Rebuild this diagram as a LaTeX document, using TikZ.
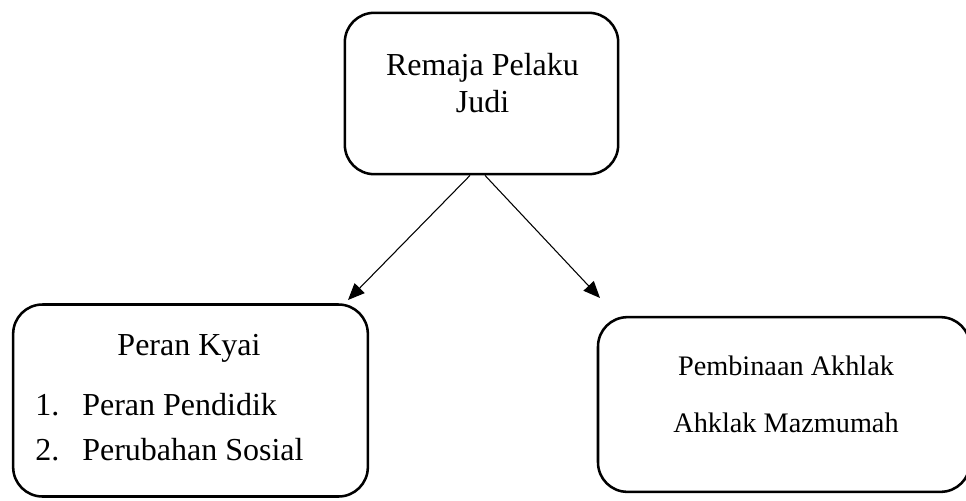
\documentclass[tikz,border=0pt]{standalone}
\usepackage{fontspec}
\setmainfont{Liberation Serif}
\usetikzlibrary{arrows.meta,calc}
\begin{document}
\begin{tikzpicture}[x=0.75pt,y=-0.75pt,
  box/.style={draw,line width=1.9pt,rounded corners=22pt,inner sep=0pt},
  arr/.style={line width=0.8pt,-{Triangle[length=12.5pt,width=10.5pt]}},
  big/.style={font=\fontsize{24}{27.6}\selectfont,inner sep=0pt},
  mid/.style={font=\fontsize{21.2}{24}\selectfont,inner sep=0pt}]
\useasboundingbox (0,0) rectangle (966,500);
% boxes
\node[box,minimum width=205pt,minimum height=121pt] (top) at (481.5,93.5) {};
\node[box,minimum width=266pt,minimum height=144pt] (left) at (190.5,400.5) {};
\node[box,minimum width=279pt,minimum height=131pt] (right) at (784,404.5) {};
% texts
\node[big,anchor=base] (t1) at (482.5,75) {Remaja Pelaku};
\node[big,anchor=base] (t2) at (482.5,112) {Judi};
\node[big,anchor=base] (l0) at (189,355) {Peran Kyai};
\node[big,anchor=base west] (n1) at (35,415) {1.};
\node[big,anchor=base west] (l1) at (82,415) {Peran Pendidik};
\node[big,anchor=base west] (n2) at (35,460) {2.};
\node[big,anchor=base west] (l2) at (82,460) {Perubahan Sosial};
\node[mid,anchor=base] (r1) at (786,375) {Pembinaan Akhlak};
\node[mid,anchor=base] (r2) at (786,432) {Ahklak Mazmumah};
% connectors
\coordinate (s1) at ($(top.south)+(-11.5,0)$);
\coordinate (s2) at ($(top.south)+(3.5,0)$);
\coordinate (e1) at (348,300);
\coordinate (e2) at (600,298);
\draw[arr] (s1) -- (e1);
\draw[arr] (s2) -- (e2);
\end{tikzpicture}
\end{document}
